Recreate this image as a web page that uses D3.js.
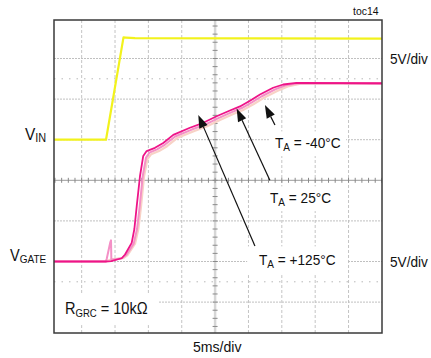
<!DOCTYPE html>
<html>
<head>
<meta charset="utf-8">
<script src="https://cdn.jsdelivr.net/npm/d3@7"></script>
<style>
  html, body { margin: 0; padding: 0; background: #fff; }
  svg { display: block; font-family: "Liberation Sans", Arial, sans-serif; }
</style>
</head>
<body>
<svg id="chart" width="431" height="358"></svg>
<script>
// ---------------- DATA ----------------
// time in ms (5 ms/div), voltages in V (5 V/div)
const timeDivLines = [5, 10, 15, 20, 25, 30, 35, 40, 45];
const levelDivLines = [-3, -2, -1, 0, 1, 2, 3];
const markerDivLines = [-2.5, 2.5];

// V_IN trace (yellow)
const vinTrace = [[0, 0], [8.65, 0], [11.27, 12.6], [11.6, 12.58], [13, 12.5], [50, 12.45]];

// V_GATE traces for three temperatures
const gateHot = [[0, 0], [8.6, 0], [9.45, 0.05], [11.0, 0.4], [11.5, 0.86], [12.5, 2.3], [12.9, 4.0],
  [13.25, 6.8], [13.74, 10.5], [14.23, 13.0], [14.74, 13.6], [15.99, 14.0], [17.23, 14.6], [18.73, 15.6], [21.23, 16.47],
  [23.23, 17.08], [25.23, 17.89], [27.23, 18.6], [28.73, 19.1], [30.23, 19.8], [31.73, 20.57], [33.7, 21.4], [35.2, 21.8],
  [37.2, 22.0], [50, 21.95]];
const gateMid = [[0, 0], [8.6, 0], [8.75, 0.3], [9.3, 2.4], [9.4, 2.6], [9.45, 0.2], [11.0, 0.4], [11.7, 0.8], [12.8, 2.2], [13.3, 4.0],
  [13.7, 6.8], [14.15, 10.5], [14.65, 12.8], [15.15, 13.4], [16.3, 13.8], [17.5, 14.4], [19.0, 15.4], [21.5, 16.25],
  [23.5, 16.85], [25.5, 17.65], [27.5, 18.4], [29.0, 18.9], [30.5, 19.6], [32.0, 20.35], [34.0, 21.2], [35.6, 21.7],
  [37.5, 21.95], [50, 21.9]];
const gatePale = [[0, 0], [8.6, 0], [9.6, 0.3], [11.2, 0.4], [11.9, 0.8], [13.0, 2.2], [13.5, 4.0],
  [13.9, 6.8], [14.35, 10.5], [14.85, 12.6], [15.4, 13.2], [16.6, 13.6], [17.8, 14.2], [19.3, 15.2], [21.8, 16.05],
  [23.8, 16.65], [25.8, 17.45], [27.8, 18.2], [29.3, 18.7], [30.8, 19.4], [32.3, 20.15], [34.3, 21.0], [35.9, 21.55],
  [37.8, 21.9], [50, 21.9]];

// annotation arrows: [tailT, tailDiv, tipT, tipDiv]
const arrowsData = [
  [30.97, -1.62, 22.48, 1.61],
  [33.21, 0.0, 28.23, 1.77],
  [33.97, 1.36, 32.47, 1.855]
];

// ---------------- LAYOUT ----------------
const svg = d3.select("#chart");
const frame = { left: 54, right: 382, top: 20, bottom: 333 };
const x = d3.scaleLinear().domain([0, 50]).range([48.3, 381.9]);
const y = d3.scaleLinear().domain([-4, 4]).range([342.7, 17.9]);
const vinCh = { offset: 1.0, vPerDiv: 5 };
const gateCh = { offset: -2.0, vPerDiv: 5 };
const yv = (v, ch) => y(ch.offset + v / ch.vPerDiv);

svg.append("defs").append("clipPath").attr("id", "plotClip")
  .append("rect").attr("x", frame.left).attr("y", frame.top)
  .attr("width", frame.right - frame.left).attr("height", frame.bottom - frame.top);

const grid = svg.append("g").attr("clip-path", "url(#plotClip)");

// vertical grid
grid.selectAll(".vg").data(timeDivLines.filter(d => d !== 25)).join("line")
  .attr("x1", d => x(d)).attr("x2", d => x(d))
  .attr("y1", frame.top).attr("y2", frame.bottom)
  .attr("stroke", "#c4c4c4").attr("stroke-width", 1).attr("stroke-dasharray", "3,2");
// horizontal grid
grid.selectAll(".hg").data(levelDivLines.filter(d => d !== 0)).join("line")
  .attr("y1", d => y(d)).attr("y2", d => y(d))
  .attr("x1", frame.left).attr("x2", frame.right)
  .attr("stroke", "#c0c0c0").attr("stroke-width", 1).attr("stroke-dasharray", "2,1");
// marker dotted lines
grid.selectAll(".mg").data(markerDivLines).join("line")
  .attr("y1", d => y(d)).attr("y2", d => y(d))
  .attr("x1", frame.left).attr("x2", frame.right)
  .attr("stroke", "#b8b8b8").attr("stroke-width", 1).attr("stroke-dasharray", "1.5,6");

// center lines with ticks
grid.append("line").attr("x1", x(25)).attr("x2", x(25)).attr("y1", frame.top).attr("y2", frame.bottom)
  .attr("stroke", "#d6d6d6").attr("stroke-width", 2.5);
grid.append("line").attr("x1", frame.left).attr("x2", frame.right).attr("y1", y(0)).attr("y2", y(0))
  .attr("stroke", "#9a9a9a").attr("stroke-width", 1);
grid.selectAll(".ht").data(d3.range(0, 50.01, 1)).join("line")
  .attr("x1", d => x(d)).attr("x2", d => x(d))
  .attr("y1", y(0) - 2.5).attr("y2", y(0) + 2.5)
  .attr("stroke", "#8a8a8a").attr("stroke-width", 1);
grid.selectAll(".vt").data(d3.range(-4, 4.01, 0.2)).join("line")
  .attr("y1", d => y(d)).attr("y2", d => y(d))
  .attr("x1", x(25) - 2.5).attr("x2", x(25) + 2.5)
  .attr("stroke", "#8a8a8a").attr("stroke-width", 1);

// ---------------- LABEL HELPER ----------------
function richLabel(px, py, parts, box) {
  const g = svg.append("g").attr("transform", `translate(${px},${py}) scale(0.91,1)`);
  const t = g.append("text").attr("x", 0).attr("y", 0).attr("fill", "#111");
  let prevShift = 0;
  parts.forEach(p => {
    const shift = p.dy || 0;
    t.append("tspan").attr("font-size", p.size).attr("dy", shift - prevShift).text(p.t);
    prevShift = shift;
  });
  if (box) {
    const bb = t.node().getBBox();
    g.insert("rect", "text")
      .attr("x", bb.x - box[0]).attr("y", bb.y - box[1])
      .attr("width", bb.width + 2 * box[0]).attr("height", bb.height + 2 * box[1])
      .attr("fill", "#fff");
  }
  return g;
}

richLabel(275, 148, [{ t: "T", size: 15 }, { t: "A", size: 11, dy: 3 }, { t: " = -40°C", size: 15, dy: 0 }], [6, 3]);
richLabel(270, 203, [{ t: "T", size: 15 }, { t: "A", size: 11, dy: 3 }, { t: " = 25°C", size: 15, dy: 0 }], [8, 3]);
richLabel(259, 265, [{ t: "T", size: 15 }, { t: "A", size: 11, dy: 3 }, { t: " = +125°C", size: 15, dy: 0 }], [13, 5]);
richLabel(65, 314, [{ t: "R", size: 16 }, { t: "GRC", size: 10.5, dy: 3 }, { t: " = 10kΩ", size: 16, dy: 0 }], [12, 6]);

// ---------------- TRACES ----------------
const traces = svg.append("g").attr("clip-path", "url(#plotClip)");
const gateLine = d3.line().x(d => x(d[0])).y(d => yv(d[1], gateCh));
const vinLine = d3.line().x(d => x(d[0])).y(d => yv(d[1], vinCh));

traces.append("path").attr("d", vinLine(vinTrace)).attr("fill", "none")
  .attr("stroke", "#f2f21c").attr("stroke-width", 2.2).attr("stroke-linejoin", "round");
traces.append("path").attr("d", gateLine(gatePale)).attr("fill", "none")
  .attr("stroke", "#f8d2c6").attr("stroke-width", 2.2).attr("stroke-linejoin", "round");
traces.append("path").attr("d", gateLine(gateMid)).attr("fill", "none")
  .attr("stroke", "#f490c6").attr("stroke-width", 2.0).attr("stroke-linejoin", "round");
traces.append("path").attr("d", gateLine(gateHot)).attr("fill", "none")
  .attr("stroke", "#ee1488").attr("stroke-width", 1.8).attr("stroke-linejoin", "round");

// ---------------- ARROWS ----------------
const arrows = svg.append("g");
arrowsData.forEach(a => {
  const x1 = x(a[0]), y1 = y(a[1]), x2 = x(a[2]), y2 = y(a[3]);
  const ang = Math.atan2(y2 - y1, x2 - x1);
  const L = 13, W = 4.5;
  const bx = x2 - L * Math.cos(ang), by = y2 - L * Math.sin(ang);
  arrows.append("line").attr("x1", x1).attr("y1", y1).attr("x2", bx).attr("y2", by)
    .attr("stroke", "#111").attr("stroke-width", 1.2);
  const p1 = [bx + W * Math.sin(ang), by - W * Math.cos(ang)];
  const p2 = [bx - W * Math.sin(ang), by + W * Math.cos(ang)];
  arrows.append("path").attr("d", `M${x2},${y2}L${p1[0]},${p1[1]}L${p2[0]},${p2[1]}Z`).attr("fill", "#111");
});

// ---------------- FRAME ----------------
svg.append("rect").attr("x", frame.left).attr("y", frame.top)
  .attr("width", frame.right - frame.left).attr("height", frame.bottom - frame.top)
  .attr("fill", "none").attr("stroke", "#3a3a3a").attr("stroke-width", 1.5);

// ---------------- OUTER TEXT ----------------
richLabel(25, 139.5, [{ t: "V", size: 17 }, { t: "IN", size: 12, dy: 2.5 }]);
richLabel(10, 261, [{ t: "V", size: 16 }, { t: "GATE", size: 11, dy: 2 }]);
richLabel(390, 64, [{ t: "5V/div", size: 15 }]);
richLabel(390, 267, [{ t: "5V/div", size: 15 }]);
richLabel(193, 351.5, [{ t: "5ms/div", size: 15.5 }]);
richLabel(353, 15, [{ t: "toc14", size: 11.5 }]);
</script>
</body>
</html>
